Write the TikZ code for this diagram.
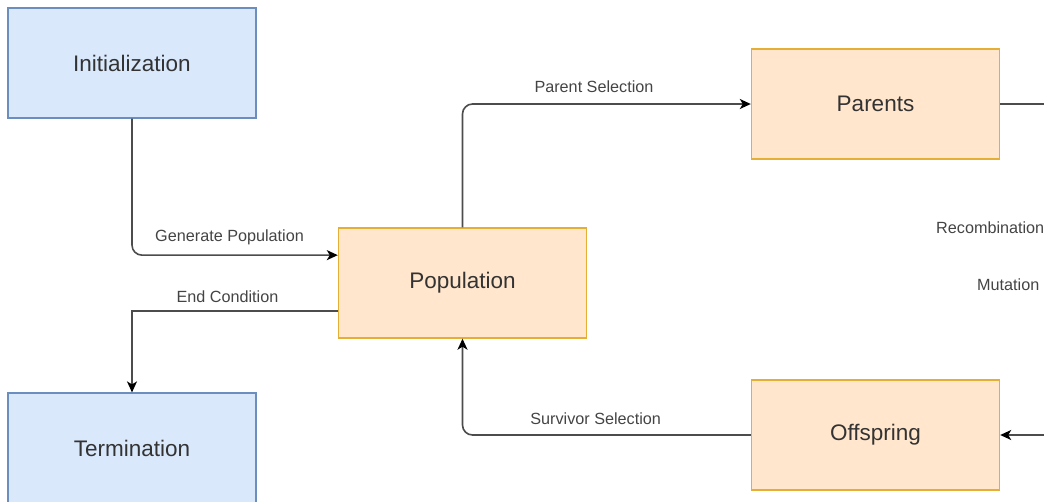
\documentclass[tikz,border=0pt]{standalone}
\usepackage{fontspec}
\setmainfont{Liberation Sans}
\usetikzlibrary{arrows.meta,calc}
\definecolor{initfill}{HTML}{DAE8FC}
\definecolor{initline}{HTML}{6C8EBF}
\definecolor{popfill}{HTML}{FFE6CC}
\definecolor{popline}{HTML}{E5AE35}
\definecolor{boxtext}{HTML}{333333}
\definecolor{edgetext}{HTML}{444444}
\begin{document}
\begin{tikzpicture}[>={Stealth[length=11pt,width=10pt,inset=3pt,black]},x=1pt,y=-1pt,
    bluebox/.style={draw=initline,fill=initfill,line width=1.2pt,minimum width=248pt,minimum height=110pt,
        text=boxtext,font=\fontsize{22.5}{27}\selectfont},
    orangebox/.style={draw=popline,fill=popfill,line width=1.4pt,minimum width=248pt,minimum height=110pt,
        text=boxtext,font=\fontsize{22.5}{27}\selectfont},
    link/.style={draw=black!70,line width=1.6pt},
    linktext/.style={text=edgetext,font=\fontsize{16.2}{19}\selectfont,inner sep=1pt}]
    \useasboundingbox (0,0) rectangle (1044,501);
    \clip (0,0) rectangle (1044,501);
    % boxes
    \node[bluebox] (init) at (132,63) {Initialization};
    \node[bluebox] (term) at (132,448) {Termination};
    \node[orangebox] (pop) at (462.5,283) {Population};
    \node[orangebox] (par) at (875.5,104) {Parents};
    \node[orangebox] (off) at (875.5,435) {Offspring};
    % connectors
    \draw[link,->,rounded corners=10pt] (init.south) |- ($(pop.north west)!0.25!(pop.south west)$)
        node[linktext,pos=0.737,above=8pt] {Generate Population};
    \draw[link,->] ($(pop.north west)!0.75!(pop.south west)$) -| (term.north)
        node[linktext,pos=0.268,above=6pt] {End Condition};
    \draw[link,->,rounded corners=10pt] (pop.north) |- (par.west)
        node[linktext,pos=0.728,above=10pt] {Parent Selection};
    \draw[link,->,rounded corners=10pt] (off.west) -| (pop.south)
        node[linktext,pos=0.269,above=9pt] {Survivor Selection};
    \coordinate (turn) at (1062,104);
    \draw[link,->] (par.east) -- (turn) |- (off.east);
    \node[linktext,anchor=west] (recomb) at (935,228) {Recombination};
    \node[linktext,anchor=west] (mut) at (976,285) {Mutation};
\end{tikzpicture}
\end{document}
